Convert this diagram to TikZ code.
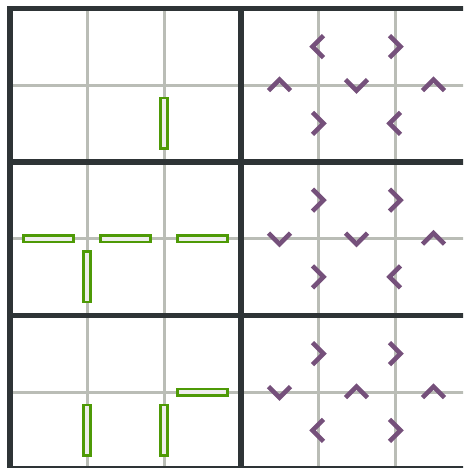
\documentclass[tikz,border=0pt]{standalone}
\usetikzlibrary{calc}
\definecolor{gridgrey}{HTML}{BABDB6}
\definecolor{boarddark}{HTML}{2E3436}
\definecolor{wallgreen}{HTML}{4E9A06}
\definecolor{wallfill}{HTML}{EEEEEC}
\definecolor{arrowplum}{HTML}{75507B}
\begin{document}
\begin{tikzpicture}[x=77pt, y=-76.75pt,
  fine/.style={draw=gridgrey, line width=3pt},
  heavy/.style={draw=boarddark, line width=5.5pt, line cap=rect},
  wall/.style={draw=wallgreen, fill=wallfill, line width=2.6pt, inner sep=0pt, outer sep=0pt},
  hwall/.style={wall, minimum width=50.5pt, minimum height=6.5pt},
  vwall/.style={wall, minimum width=6.5pt, minimum height=50.5pt},
  chev/.pic={\draw[arrowplum, line width=4.6pt, line join=miter] (-5.5pt,11pt) -- (5.5pt,0pt) -- (-5.5pt,-11pt);}]
\useasboundingbox (-0.12987,-0.10814) rectangle (5.88312,5.98958);
\clip (-0.12987,-0.10814) rectangle (5.88312,5.98958);
% board
\foreach \i in {1,2,4,5}
  \draw[fine] (\i,0) -- (\i,6);
\foreach \i in {1,3,5}
  \draw[fine] (0,\i) -- (6,\i);
\foreach \i in {0,3,6}
  \draw[heavy] (\i,0) -- (\i,6);
\foreach \i in {0,2,4,6}
  \draw[heavy] (0,\i) -- (6,\i);
% walls
\node[vwall] (w1) at (2,1.5) {};
\node[hwall] (w2) at (0.5,3) {};
\node[hwall] (w3) at (1.5,3) {};
\node[hwall] (w4) at (2.5,3) {};
\node[vwall] (w5) at (1,3.5) {};
\node[hwall] (w6) at (2.5,5) {};
\node[vwall] (w7) at (1,5.5) {};
\node[vwall] (w8) at (2,5.5) {};
% arrows, top block
\pic[rotate=180] at (4,0.5) {chev};
\pic[rotate=0]   at (5,0.5) {chev};
\pic[rotate=90]  at (3.5,1) {chev};
\pic[rotate=270] at (4.5,1) {chev};
\pic[rotate=90]  at (5.5,1) {chev};
\pic[rotate=0]   at (4,1.5) {chev};
\pic[rotate=180] at (5,1.5) {chev};
% middle block
\pic[rotate=0]   at (4,2.5) {chev};
\pic[rotate=0]   at (5,2.5) {chev};
\pic[rotate=270] at (3.5,3) {chev};
\pic[rotate=270] at (4.5,3) {chev};
\pic[rotate=90]  at (5.5,3) {chev};
\pic[rotate=0]   at (4,3.5) {chev};
\pic[rotate=180] at (5,3.5) {chev};
% bottom block
\pic[rotate=0]   at (4,4.5) {chev};
\pic[rotate=0]   at (5,4.5) {chev};
\pic[rotate=270] at (3.5,5) {chev};
\pic[rotate=90]  at (4.5,5) {chev};
\pic[rotate=90]  at (5.5,5) {chev};
\pic[rotate=180] at (4,5.5) {chev};
\pic[rotate=0]   at (5,5.5) {chev};
\end{tikzpicture}
\end{document}
